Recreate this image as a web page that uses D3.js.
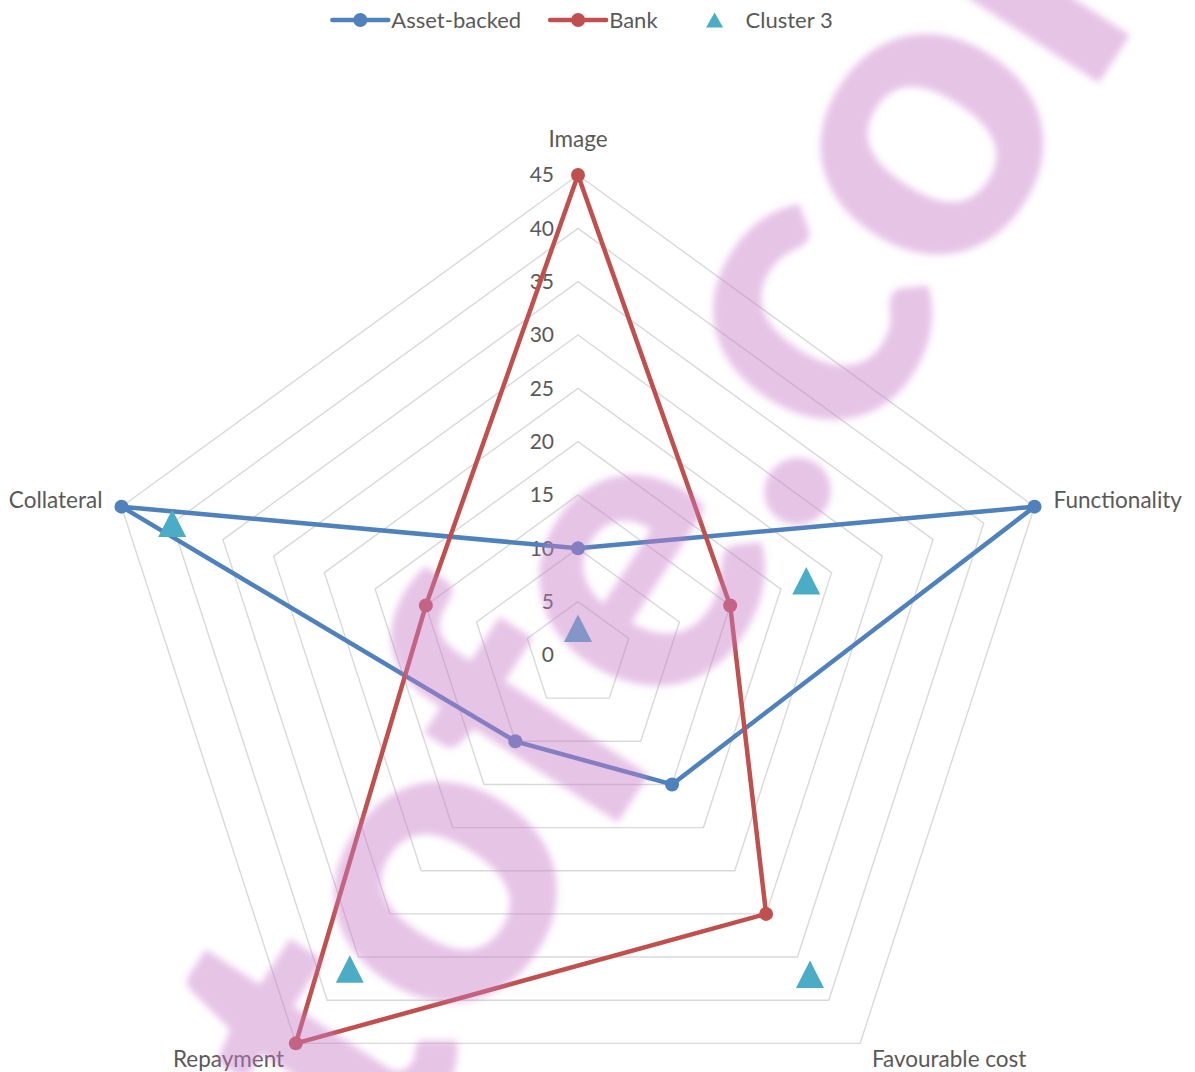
<!DOCTYPE html>
<html>
<head>
<meta charset="utf-8">
<script src="https://cdn.jsdelivr.net/npm/d3@7"></script>
<style>
  html, body { margin: 0; padding: 0; background: #fff; }
  svg { display: block; }
  .lbl { font-family: Lato, "Open Sans", sans-serif; fill: #595959; }
</style>
</head>
<body>
<svg id="chart" width="1195" height="1072"></svg>
<script>
// ---- data ----
const axes = ["Image", "Functionality", "Favourable cost", "Repayment", "Collateral"];
const tickValues = [0, 5, 10, 15, 20, 25, 30, 35, 40, 45];
const assetBacked = [10, 45, 15, 10, 45];
const bank = [45, 15, 30, 45, 15];
const cluster3 = [2.5, 22.5, 37, 36.4, 40];
const seriesNames = ["Asset-backed", "Bank", "Cluster 3"];
const seriesColors = ["#4f81bd", "#c0504d", "#4bacc6"];
const watermarkText = "tofe.com";

// ---- layout ----
const cx = 578, cy = 655, R = 480;
const svg = d3.select("#chart");
const r = d3.scaleLinear().domain([0, 45]).range([0, R]);
const angle = d3.scaleLinear().domain([0, axes.length]).range([0, 2 * Math.PI]);
const pt = (i, v) => [r(v) * Math.sin(angle(i)), -r(v) * Math.cos(angle(i))];

const g = svg.append("g").attr("transform", `translate(${cx},${cy})`);
const radial = d3.lineRadial()
  .angle((d, i) => angle(i))
  .radius(d => r(d))
  .curve(d3.curveLinearClosed);

// concentric pentagon grid
g.append("g").selectAll("path")
  .data(tickValues.filter(t => t > 0))
  .join("path")
  .attr("d", t => radial(axes.map(() => t)))
  .attr("fill", "none")
  .attr("stroke", "#d9d9d9")
  .attr("stroke-width", 1.4);

// value labels along the top spoke
g.append("g").selectAll("text")
  .data(tickValues)
  .join("text")
  .attr("class", "lbl")
  .attr("x", -24)
  .attr("y", d => -r(d))
  .attr("dy", "0.35em")
  .attr("text-anchor", "end")
  .style("font-size", "21px")
  .text(d => d);

// category labels outside the outer ring
const pad = 20;
g.append("g").selectAll("text")
  .data(axes)
  .join("text")
  .attr("class", "lbl")
  .style("font-size", "22.5px")
  .each(function (name, i) {
    const a = angle(i), s = Math.sin(a), c = Math.cos(a);
    const x = (R + pad) * s, y = -(R + pad) * c;
    const t = d3.select(this).text(name);
    if (Math.abs(s) < 0.1) {
      t.attr("x", x).attr("y", y - 16).attr("dy", "0.35em").attr("text-anchor", "middle");
    } else {
      t.attr("x", x).attr("y", y).attr("dy", "0.35em").attr("text-anchor", s > 0 ? "start" : "end");
    }
  });

// line series
[assetBacked, bank].forEach((vals, k) => {
  const sg = g.append("g");
  sg.append("path")
    .attr("d", radial(vals))
    .attr("fill", "none")
    .attr("stroke", seriesColors[k])
    .attr("stroke-width", 4.5)
    .attr("stroke-linejoin", "round");
  sg.selectAll("circle")
    .data(vals)
    .join("circle")
    .attr("cx", (d, i) => pt(i, d)[0])
    .attr("cy", (d, i) => pt(i, d)[1])
    .attr("r", 7)
    .attr("fill", seriesColors[k]);
});

// marker-only series
function triangle(w, h) {
  const p = d3.path();
  p.moveTo(0, -h / 2); p.lineTo(w / 2, h / 2); p.lineTo(-w / 2, h / 2); p.closePath();
  return p.toString();
}
g.append("g").selectAll("path")
  .data(cluster3)
  .join("path")
  .attr("d", triangle(28, 27.5))
  .attr("transform", (d, i) => `translate(${pt(i, d)[0]},${pt(i, d)[1]})`)
  .attr("fill", seriesColors[2]);

// legend
const legend = svg.append("g");
let lx = 0;
const ly = 20, symW = 56, itemGap = 29;
seriesNames.forEach((name, k) => {
  const it = legend.append("g").attr("transform", `translate(${lx},0)`);
  if (k < 2) {
    it.append("line").attr("x1", 0).attr("x2", symW).attr("y1", ly).attr("y2", ly)
      .attr("stroke", seriesColors[k]).attr("stroke-width", 4.5).attr("stroke-linecap", "round");
    it.append("circle").attr("cx", symW / 2).attr("cy", ly).attr("r", 7).attr("fill", seriesColors[k]);
  } else {
    it.append("path").attr("d", triangle(17, 15)).attr("transform", `translate(${symW / 2},${ly})`)
      .attr("fill", seriesColors[k]);
  }
  const tx = it.append("text").attr("class", "lbl").attr("x", symW + 3).attr("y", ly).attr("dy", "0.35em")
    .style("font-size", "22px").text(name);
  lx += symW + 3 + tx.node().getComputedTextLength() + itemGap;
});
const legendW = lx - itemGap;
legend.attr("transform", `translate(${582.5 - legendW / 2},0)`);

// translucent diagonal watermark drawn over the chart
const defs = svg.append("defs");
defs.append("filter").attr("id", "soft").append("feGaussianBlur").attr("stdDeviation", 0.9);
const wm = svg.append("text")
  .attr("x", 0).attr("y", 0)
  .style("font-family", "Lato, sans-serif")
  .style("font-weight", 900)
  .style("font-size", "100px")
  .attr("fill", "rgb(199,124,199)")
  .attr("fill-opacity", 0.45)
  .attr("filter", "url(#soft)")
  .text(watermarkText);
(function placeWatermark() {
  const node = wm.node();
  const e1 = node.getExtentOfChar(1), e2 = node.getExtentOfChar(6);
  const p1 = [e1.x + e1.width / 2, -25.5], p2 = [e2.x + e2.width / 2, -25.5];
  const q1 = [445, 895], q2 = [933, 145];
  const s = Math.hypot(q2[0] - q1[0], q2[1] - q1[1]) / Math.hypot(p2[0] - p1[0], p2[1] - p1[1]);
  const a = Math.atan2(q2[1] - q1[1], q2[0] - q1[0]) * 180 / Math.PI;
  wm.attr("transform", `translate(${q1[0]},${q1[1]}) rotate(${a}) scale(${s}) translate(${-p1[0]},${-p1[1]})`);
})();
</script>
</body>
</html>
